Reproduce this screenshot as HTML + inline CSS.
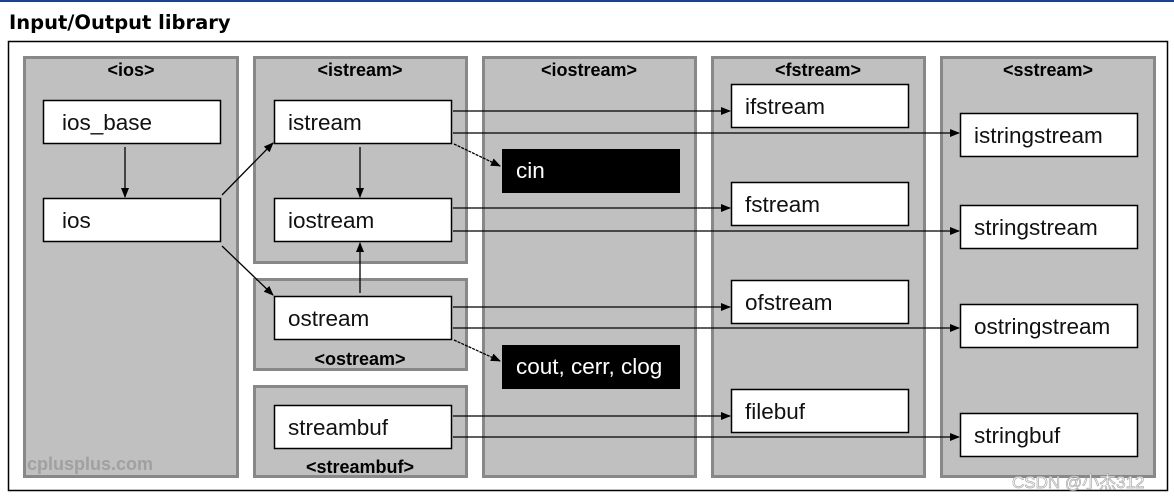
<!DOCTYPE html>
<html><head><meta charset="utf-8"><style>
html,body{margin:0;padding:0;background:#fff;width:1174px;height:501px;overflow:hidden}
</style></head><body>
<svg width="1174" height="501" xmlns="http://www.w3.org/2000/svg" font-family="Liberation Sans, sans-serif">
<defs><marker id="a" markerWidth="10" markerHeight="8" refX="9" refY="4" orient="auto" markerUnits="userSpaceOnUse"><path d="M0,0 L10,4 L0,8 z" fill="#000"/></marker></defs>
<rect x="0" y="0" width="1174" height="2" fill="#1f3f8f"/>
<text x="9" y="29" font-family="DejaVu Sans, sans-serif" font-weight="bold" font-size="19.5">Input/Output library</text>
<rect x="8.5" y="41.5" width="1159" height="449" fill="#fff" stroke="#000" stroke-width="1.5"/>
<g fill="#c0c0c0" stroke="#888" stroke-width="3">
<rect x="24.5" y="57.5" width="213" height="419"/>
<rect x="254.5" y="57.5" width="212" height="205"/>
<rect x="254.5" y="279.5" width="212" height="90"/>
<rect x="254.5" y="386.5" width="212" height="90"/>
<rect x="483.5" y="57.5" width="212" height="419"/>
<rect x="712.5" y="57.5" width="212" height="419"/>
<rect x="941.5" y="57.5" width="213" height="419"/>
</g>
<g font-weight="bold" font-size="18" text-anchor="middle">
<text x="131" y="76">&lt;ios&gt;</text>
<text x="360" y="76">&lt;istream&gt;</text>
<text x="360" y="365">&lt;ostream&gt;</text>
<text x="360" y="473">&lt;streambuf&gt;</text>
<text x="589" y="76">&lt;iostream&gt;</text>
<text x="818" y="76">&lt;fstream&gt;</text>
<text x="1048" y="76">&lt;sstream&gt;</text>
</g>
<text x="27" y="470" font-weight="bold" font-size="18" fill="#a0a0a0">cplusplus.com</text>
<g fill="#fff" stroke="#000" stroke-width="1.5">
<rect x="43.5" y="100.5" width="177" height="43"/>
<rect x="43.5" y="198.5" width="177" height="43"/>
<rect x="274.5" y="100.5" width="177" height="43"/>
<rect x="274.5" y="198.5" width="177" height="43"/>
<rect x="274.5" y="296.5" width="177" height="43"/>
<rect x="274.5" y="405.5" width="177" height="43"/>
<rect x="731.5" y="84.5" width="177" height="43"/>
<rect x="731.5" y="182.5" width="177" height="43"/>
<rect x="731.5" y="280.5" width="177" height="43"/>
<rect x="731.5" y="389.5" width="177" height="43"/>
<rect x="960.5" y="113.5" width="177" height="43"/>
<rect x="960.5" y="205.5" width="177" height="43"/>
<rect x="960.5" y="304.5" width="177" height="43"/>
<rect x="960.5" y="413.5" width="177" height="43"/>
</g>
<rect x="502" y="149" width="178" height="44" fill="#000"/>
<rect x="502" y="345" width="178" height="44" fill="#000"/>
<g font-size="22.5" fill="#111">
<text x="62" y="130">ios_base</text>
<text x="62" y="228">ios</text>
<text x="288" y="130">istream</text>
<text x="288" y="228">iostream</text>
<text x="288" y="326">ostream</text>
<text x="288" y="435">streambuf</text>
<text x="745" y="114">ifstream</text>
<text x="745" y="212">fstream</text>
<text x="745" y="310">ofstream</text>
<text x="745" y="419">filebuf</text>
<text x="974" y="143">istringstream</text>
<text x="974" y="235">stringstream</text>
<text x="974" y="334">ostringstream</text>
<text x="974" y="443">stringbuf</text>
<text x="516" y="178" fill="#fff">cin</text>
<text x="516" y="374" fill="#fff">cout, cerr, clog</text>
</g>
<g stroke="#000" stroke-width="1.3" fill="none" marker-end="url(#a)">
<line x1="125" y1="147" x2="125" y2="197"/>
<line x1="360" y1="147" x2="360" y2="197"/>
<line x1="360" y1="293" x2="360" y2="243"/>
<line x1="222" y1="195" x2="273" y2="143"/>
<line x1="222" y1="246" x2="273" y2="295"/>
<line x1="453" y1="111" x2="730" y2="111"/>
<line x1="453" y1="133" x2="959" y2="133"/>
<line x1="453" y1="208" x2="730" y2="208"/>
<line x1="453" y1="231" x2="959" y2="231"/>
<line x1="453" y1="307" x2="730" y2="307"/>
<line x1="453" y1="328" x2="959" y2="328"/>
<line x1="453" y1="416" x2="730" y2="416"/>
<line x1="453" y1="437" x2="959" y2="437"/>
<line x1="454" y1="144" x2="500" y2="166" stroke-dasharray="3,1"/>
<line x1="454" y1="340" x2="500" y2="361" stroke-dasharray="3,1"/>
</g>
<text x="1012" y="488" font-size="17" fill="#fff" stroke="#aaa" stroke-width="0.7" font-family="Liberation Sans, Noto Sans CJK SC, sans-serif">CSDN @小杰312</text>
</svg>
</body></html>
